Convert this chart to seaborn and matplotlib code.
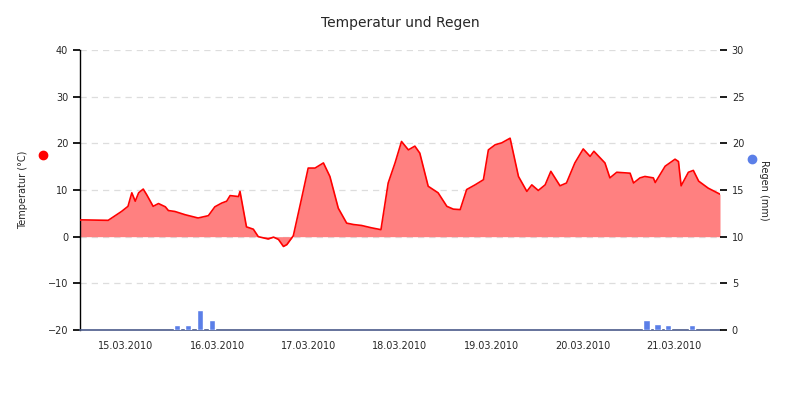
import numpy as np
import pandas as pd
import matplotlib
matplotlib.use("Agg")
import matplotlib.pyplot as plt
import seaborn as sns

# hours since 15.03.2010 00:00 and temperature (°C)
temp_hours = [0, 0.3, 7.4, 10.9, 12.6, 13.6, 14.5, 15.4, 16.6, 17.5, 19.2, 20.6, 22.4, 23.2, 24.9,
              27.6, 31, 33.7, 35.4, 37.2, 38.5, 39.4, 41.6, 42, 43.7, 45.5, 46.8, 49.4, 50.8, 52.1,
              53.4, 54.3, 56, 58.2, 59.9, 61.7, 63.9, 65.6, 67.8, 70, 71.8, 73.9, 76.5, 79, 80.9,
              82.7, 84.4, 86.2, 87.9, 89.2, 91.4, 94, 96.3, 98, 99.8, 101.5, 103.7, 105.9, 107.2,
              109, 110.7, 112.9, 115.1, 117.3, 118.6, 120.3, 122.1, 123.6, 126, 127.7, 129.9,
              132.1, 133.9, 134.9, 137.8, 139.1, 140.9, 144.4, 145.3, 147, 148.3, 150.5, 151,
              153.6, 156.2, 157.1, 157.8, 159.7, 161, 162.4, 164.9, 168]
temp_vals = [3.5, 3.6, 3.5, 5.4, 6.5, 9.4, 7.6, 9.4, 10.2, 9.0, 6.5, 7.1, 6.4, 5.6, 5.4,
             4.7, 4.0, 4.5, 6.4, 7.2, 7.6, 8.8, 8.6, 9.7, 2.1, 1.6, 0.0, -0.5, -0.1, -0.6,
             -2.1, -1.7, 0.2, 8.3, 14.7, 14.7, 15.8, 12.9, 6.1, 2.9, 2.6, 2.4, 1.9, 1.5, 11.5,
             15.8, 20.4, 18.6, 19.4, 17.9, 10.8, 9.4, 6.5, 5.9, 5.8, 10.1, 11.1, 12.2, 18.6,
             19.7, 20.1, 21.1, 12.9, 9.7, 11.1, 9.9, 11.1, 14.0, 10.9, 11.5, 15.8,
             18.8, 17.2, 18.3, 15.8, 12.6, 13.8, 13.6, 11.5, 12.6, 12.9, 12.6, 11.6,
             15.1, 16.6, 16.1, 10.9, 13.8, 14.2, 11.9, 10.4, 9.1]

rain_hours = [25.4, 28.4, 31.5, 34.6, 148.7, 151.6, 154.4, 160.7]
rain_vals = [0.54, 0.54, 2.1, 1.07, 1.07, 0.64, 0.54, 0.54]

day_labels = ["15.03.2010", "16.03.2010", "17.03.2010", "18.03.2010",
              "19.03.2010", "20.03.2010", "21.03.2010"]

sns.set_theme(style="white")
plt.rcParams['font.family'] = ['DejaVu Sans']

temp = pd.DataFrame({"h": temp_hours, "t": temp_vals})
rain = pd.DataFrame({"h": rain_hours, "r": rain_vals})

fig = plt.figure(figsize=(8, 4), dpi=100)
ax = fig.add_axes([0.1, 0.175, 0.8, 0.7])
ax2 = ax.twinx()

ax.fill_between(temp["h"], temp["t"], 0, color="#ff8080", lw=0, zorder=2)
sns.lineplot(data=temp, x="h", y="t", ax=ax, color="red", lw=1.2, zorder=3)
ax2.bar(rain["h"], rain["r"], width=1.6, color="#5b7fe8", zorder=3)

ax.set_xlim(0, 168)
ax.set_ylim(-20, 40)
ax2.set_ylim(0, 30)
ax.set_yticks(range(-20, 41, 10))
ax2.set_yticks(range(0, 31, 5))
for y in range(-10, 41, 10):
    ax.axhline(y, color="#dddddd", ls=(0, (5, 4)), lw=0.9, zorder=1)

ax.set_xticks(range(0, 169, 24))
ax.set_xticklabels([])
ax.set_xticks([12 + 24 * i for i in range(7)], minor=True)
ax.set_xticklabels(day_labels, minor=True, fontsize=7)
ax.tick_params(axis="x", which="major", length=5, color="black", direction="out")
ax.tick_params(axis="x", which="minor", length=0, pad=8)
ax.tick_params(axis="y", length=5, labelsize=7, color="black", direction="out", left=True)
ax2.tick_params(axis="y", length=5, labelsize=7, color="black", direction="out", right=True)

for sp in ["top", "right"]:
    ax.spines[sp].set_visible(False)
for sp in ["top", "right", "left", "bottom"]:
    ax2.spines[sp].set_visible(False)
ax.spines["left"].set_color("black")
ax.spines["left"].set_linewidth(1)
ax.spines["bottom"].set_color("#4a5a8a")
ax.spines["bottom"].set_linewidth(1.2)

ax.set_xlabel("")
ax.set_ylabel("Temperatur (°C)", fontsize=7, labelpad=14)
ax2.set_ylabel("Regen (mm)", fontsize=7, rotation=270, labelpad=18)
ax.plot([-0.058], [0.625], "o", color="red", ms=6, transform=ax.transAxes, clip_on=False)
ax2.plot([1.05], [0.61], "o", color="#5b7fe8", ms=6, transform=ax2.transAxes, clip_on=False)

fig.suptitle("Temperatur und Regen", y=0.96, fontsize=10)
fig.savefig("out.png", dpi=100)
